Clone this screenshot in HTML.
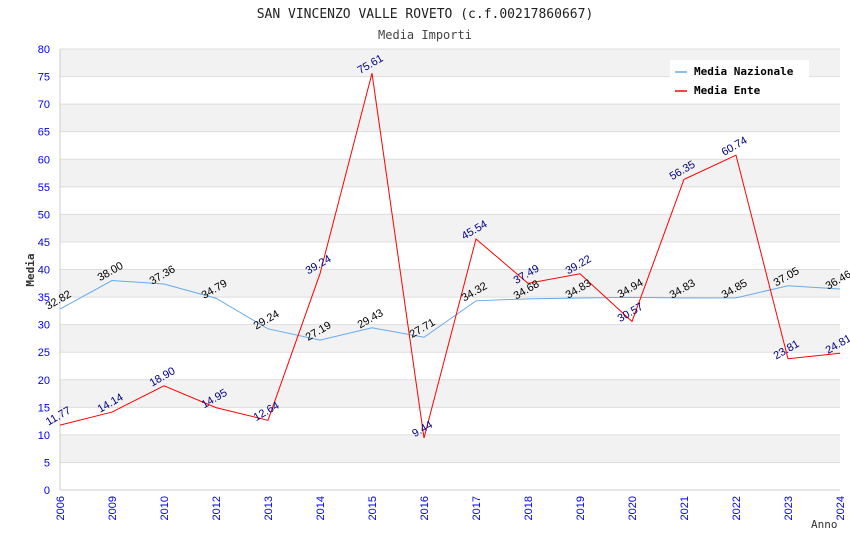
<!DOCTYPE html>
<html><head><meta charset="utf-8"><style>
body{margin:0;background:#fff;}
svg{display:block;font-family:"Liberation Sans","DejaVu Sans",sans-serif;}
.mono{font-family:"DejaVu Sans Mono","Liberation Mono",monospace;}
</style></head><body>
<svg id="chart" width="850" height="550" xmlns="http://www.w3.org/2000/svg">
<text class="mono" x="425" y="18" text-anchor="middle" font-size="13" fill="#222">SAN VINCENZO VALLE ROVETO (c.f.00217860667)</text>
<text class="mono" x="425" y="39" text-anchor="middle" font-size="12" fill="#444">Media Importi</text>
<g id="bands"></g><g id="grid"></g><g id="axes"></g><g id="series"></g><g id="labels"></g>
<text class="mono" transform="translate(34,270) rotate(-90)" text-anchor="middle" font-size="11" font-weight="bold" fill="#333">Media</text>
<text class="mono" x="811" y="528" font-size="11" fill="#333">Anno</text>
<g>
<rect x="670" y="60" width="139" height="40" fill="#fff"/>
<line x1="675" y1="72" x2="687" y2="72" stroke="#66aaee" stroke-width="1.5"/>
<text class="mono" x="694" y="75" font-size="11" font-weight="bold" fill="#000">Media Nazionale</text>
<line x1="675" y1="91" x2="687" y2="91" stroke="#ff0000" stroke-width="1.5"/>
<text class="mono" x="694" y="94" font-size="11" font-weight="bold" fill="#000">Media Ente</text>
</g>
</svg>
<script>
const categories=["2006","2009","2010","2012","2013","2014","2015","2016","2017","2018","2019","2020","2021","2022","2023","2024"];
const nazionale=[32.82,38.00,37.36,34.79,29.24,27.19,29.43,27.71,34.32,34.68,34.83,34.94,34.83,34.85,37.05,36.46];
const ente=[11.77,14.14,18.90,14.95,12.64,39.24,75.61,9.44,45.54,37.49,39.22,30.57,56.35,60.74,23.81,24.81];
const yTicks=[0,5,10,15,20,25,30,35,40,45,50,55,60,65,70,75,80];
const NS="http://www.w3.org/2000/svg";
const L=60,R=840,T=49,B=490,YMAX=80;
const xs=i=>L+i*(R-L)/(categories.length-1);
const ys=v=>B-v*(B-T)/YMAX;
function mk(tag,attrs,parent,txt){const e=document.createElementNS(NS,tag);for(const k in attrs)e.setAttribute(k,attrs[k]);if(txt!==undefined)e.textContent=txt;document.getElementById(parent).appendChild(e);return e;}
for(let k=0;k<yTicks.length-1;k++){
  if(yTicks[k]%10===5){
    const r=mk('rect',{x:L,y:ys(yTicks[k+1]),width:R-L,height:ys(yTicks[k])-ys(yTicks[k+1]),fill:'#f2f2f2'},'bands');
    
    
  }
}
yTicks.forEach(v=>{
  const l=mk('line',{x1:L,x2:R,y1:ys(v),y2:ys(v),stroke:'#dddddd'},'grid');
  
  
  const t=mk('text',{x:L-10,y:ys(v)+4,'text-anchor':'end','font-size':11,fill:'#0000ee'},'axes',String(v));
  
  
});
mk('line',{x1:L,x2:L,y1:T,y2:B,stroke:'#cccccc'},'axes');
mk('line',{x1:L,x2:R,y1:B,y2:B,stroke:'#cccccc'},'axes');
categories.forEach((c,i)=>{
  const x=xs(i);
  const t=mk('text',{transform:`translate(${x+4},${B+6}) rotate(-90)`,'text-anchor':'end','font-size':11,fill:'#0000ee'},'axes',c);
  
  
});
function series(vals,color,lblColor,name){
  const p=mk('polyline',{points:vals.map((v,i)=>xs(i)+','+ys(v)).join(' '),fill:'none',stroke:color,'stroke-width':1},'series');
  
  
  vals.forEach((v,i)=>{
    const t=mk('text',{transform:`translate(${xs(i)},${ys(v)-6}) rotate(-30)`,'text-anchor':'middle','font-size':11,fill:lblColor},'labels',v.toFixed(2));
    
    
  });
}
series(nazionale,'#66aaee','#000','nazionale');
series(ente,'#ff0000','#000080','ente');
</script>
</body></html>
